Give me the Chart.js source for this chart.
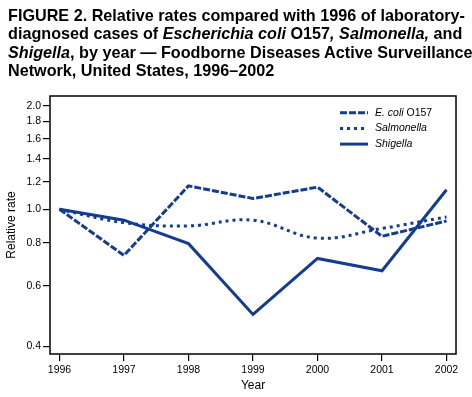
<!DOCTYPE html>
<html>
<head>
<meta charset="utf-8">
<script src="https://cdn.jsdelivr.net/npm/chart.js@4"></script>
<style>
  html, body { margin:0; padding:0; background:#fff; }
  #wrap { position:relative; width:472px; height:397px; overflow:hidden; }
  #title { position:absolute; left:8px; top:6px; width:464px; font-family:"Liberation Sans", Arial, Helvetica, sans-serif; font-weight:bold; font-size:16.2px; line-height:18.3px; color:#000; white-space:nowrap; z-index:2; }
  canvas { position:absolute; left:0; top:0; }
</style>
</head>
<body>
<div id="wrap">
  <div id="title">FIGURE 2. Relative rates compared with 1996 of laboratory-<br>diagnosed cases of <i>Escherichia coli</i> O157<i>, Salmonella,</i> and<br><i>Shigella</i>, by year — Foodborne Diseases Active Surveillance<br>Network, United States, 1996–2002</div>
  <canvas id="c" width="472" height="397"></canvas>
</div>
<script>
const years = [1996, 1997, 1998, 1999, 2000, 2001, 2002];
const ecoli = [1.0, 0.735, 1.17, 1.075, 1.16, 0.835, 0.925];
const salmonella = [1.0, 0.915, 0.895, 0.93, 0.825, 0.88, 0.95];
const shigella = [1.0, 0.93, 0.795, 0.495, 0.72, 0.663, 1.14];
const yTicks = [0.4, 0.6, 0.8, 1.0, 1.2, 1.4, 1.6, 1.8, 2.0];
const seriesLabels = ["E. coli O157", "Salmonella", "Shigella"];

const BLUE = "rgb(20,60,145)";
const FONT = "'Liberation Sans', Arial, Helvetica, sans-serif";

function pts(arr) { return years.map((y, i) => ({ x: y, y: arr[i] })); }

const boxPlugin = {
  id: 'box',
  afterDraw(chart) {
    const { left, right, top, bottom } = chart.chartArea;
    const ctx = chart.ctx;
    ctx.save();
    ctx.strokeStyle = '#000';
    ctx.lineWidth = 1.5;
    ctx.setLineDash([]);
    ctx.strokeRect(left, top, right - left, bottom - top);
    ctx.restore();
  }
};

const legendPlugin = {
  id: 'customLegend',
  afterDraw(chart) {
    const ctx = chart.ctx;
    const { right, top } = chart.chartArea;
    chart.data.datasets.forEach((ds, i) => {
      const y = top + 16.7 + i * 15.7;
      const x0 = right - 116;
      ctx.save();
      ctx.strokeStyle = ds.borderColor;
      ctx.lineWidth = ds.borderWidth;
      ctx.setLineDash(ds.borderDash || []);
      ctx.lineCap = 'butt';
      ctx.beginPath();
      ctx.moveTo(x0, y);
      ctx.lineTo(x0 + 28, y);
      ctx.stroke();
      ctx.setLineDash([]);
      ctx.fillStyle = '#000';
      ctx.textBaseline = 'middle';
      ctx.textAlign = 'left';
      let tx = x0 + 35;
      const lbl = ds.label;
      if (lbl.indexOf('E. coli') === 0) {
        ctx.font = "italic 10.5px " + FONT;
        ctx.fillText('E. coli', tx, y);
        tx += ctx.measureText('E. coli').width;
        ctx.font = "10.5px " + FONT;
        ctx.fillText(lbl.slice(7), tx, y);
      } else {
        ctx.font = "italic 10.5px " + FONT;
        ctx.fillText(lbl, tx, y);
      }
      ctx.restore();
    });
  }
};

new Chart(document.getElementById('c'), {
  type: 'line',
  data: {
    datasets: [
      { label: seriesLabels[0], data: pts(ecoli), borderColor: BLUE, borderWidth: 3, borderDash: [7, 2], pointRadius: 0, fill: false, tension: 0 },
      { label: seriesLabels[1], data: pts(salmonella), borderColor: BLUE, borderWidth: 3, borderDash: [3, 4], pointRadius: 0, fill: false, tension: 0.4 },
      { label: seriesLabels[2], data: pts(shigella), borderColor: BLUE, borderWidth: 3, pointRadius: 0, fill: false, tension: 0 }
    ]
  },
  options: {
    responsive: false,
    animation: false,
    layout: { padding: { top: 96, right: 16, left: 0, bottom: 0 } },
    plugins: { legend: { display: false }, tooltip: { enabled: false }, title: { display: false } },
    scales: {
      x: {
        type: 'linear',
        min: 1995.853,
        max: 2002.147,
        afterBuildTicks(scale) { scale.ticks = years.map(v => ({ value: v })); },
        afterFit(scale) { scale.height = 43; },
        border: { display: false },
        grid: { display: true, drawOnChartArea: false, drawTicks: true, tickLength: 7, color: '#000', lineWidth: 1.2 },
        ticks: { color: '#000', padding: 3, maxRotation: 0, autoSkip: false, font: { family: FONT, size: 10.5 }, callback: v => String(v) },
        title: { display: true, text: 'Year', color: '#000', font: { family: FONT, size: 12 }, padding: { top: 4, bottom: 4 } }
      },
      y: {
        type: 'logarithmic',
        min: 0.38,
        max: 2.134,
        afterBuildTicks(scale) { scale.ticks = yTicks.map(v => ({ value: v })); },
        afterFit(scale) { scale.width = 50; },
        border: { display: false },
        grid: { display: true, drawOnChartArea: false, drawTicks: true, tickLength: 7, color: '#000', lineWidth: 1.2 },
        ticks: { color: '#000', padding: 2, autoSkip: false, font: { family: FONT, size: 10.5 }, callback: v => Number(v).toFixed(1) },
        title: { display: true, text: 'Relative rate', color: '#000', font: { family: FONT, size: 12 }, padding: { top: 4, bottom: 4 } }
      }
    }
  },
  plugins: [boxPlugin, legendPlugin]
});
</script>
</body>
</html>
